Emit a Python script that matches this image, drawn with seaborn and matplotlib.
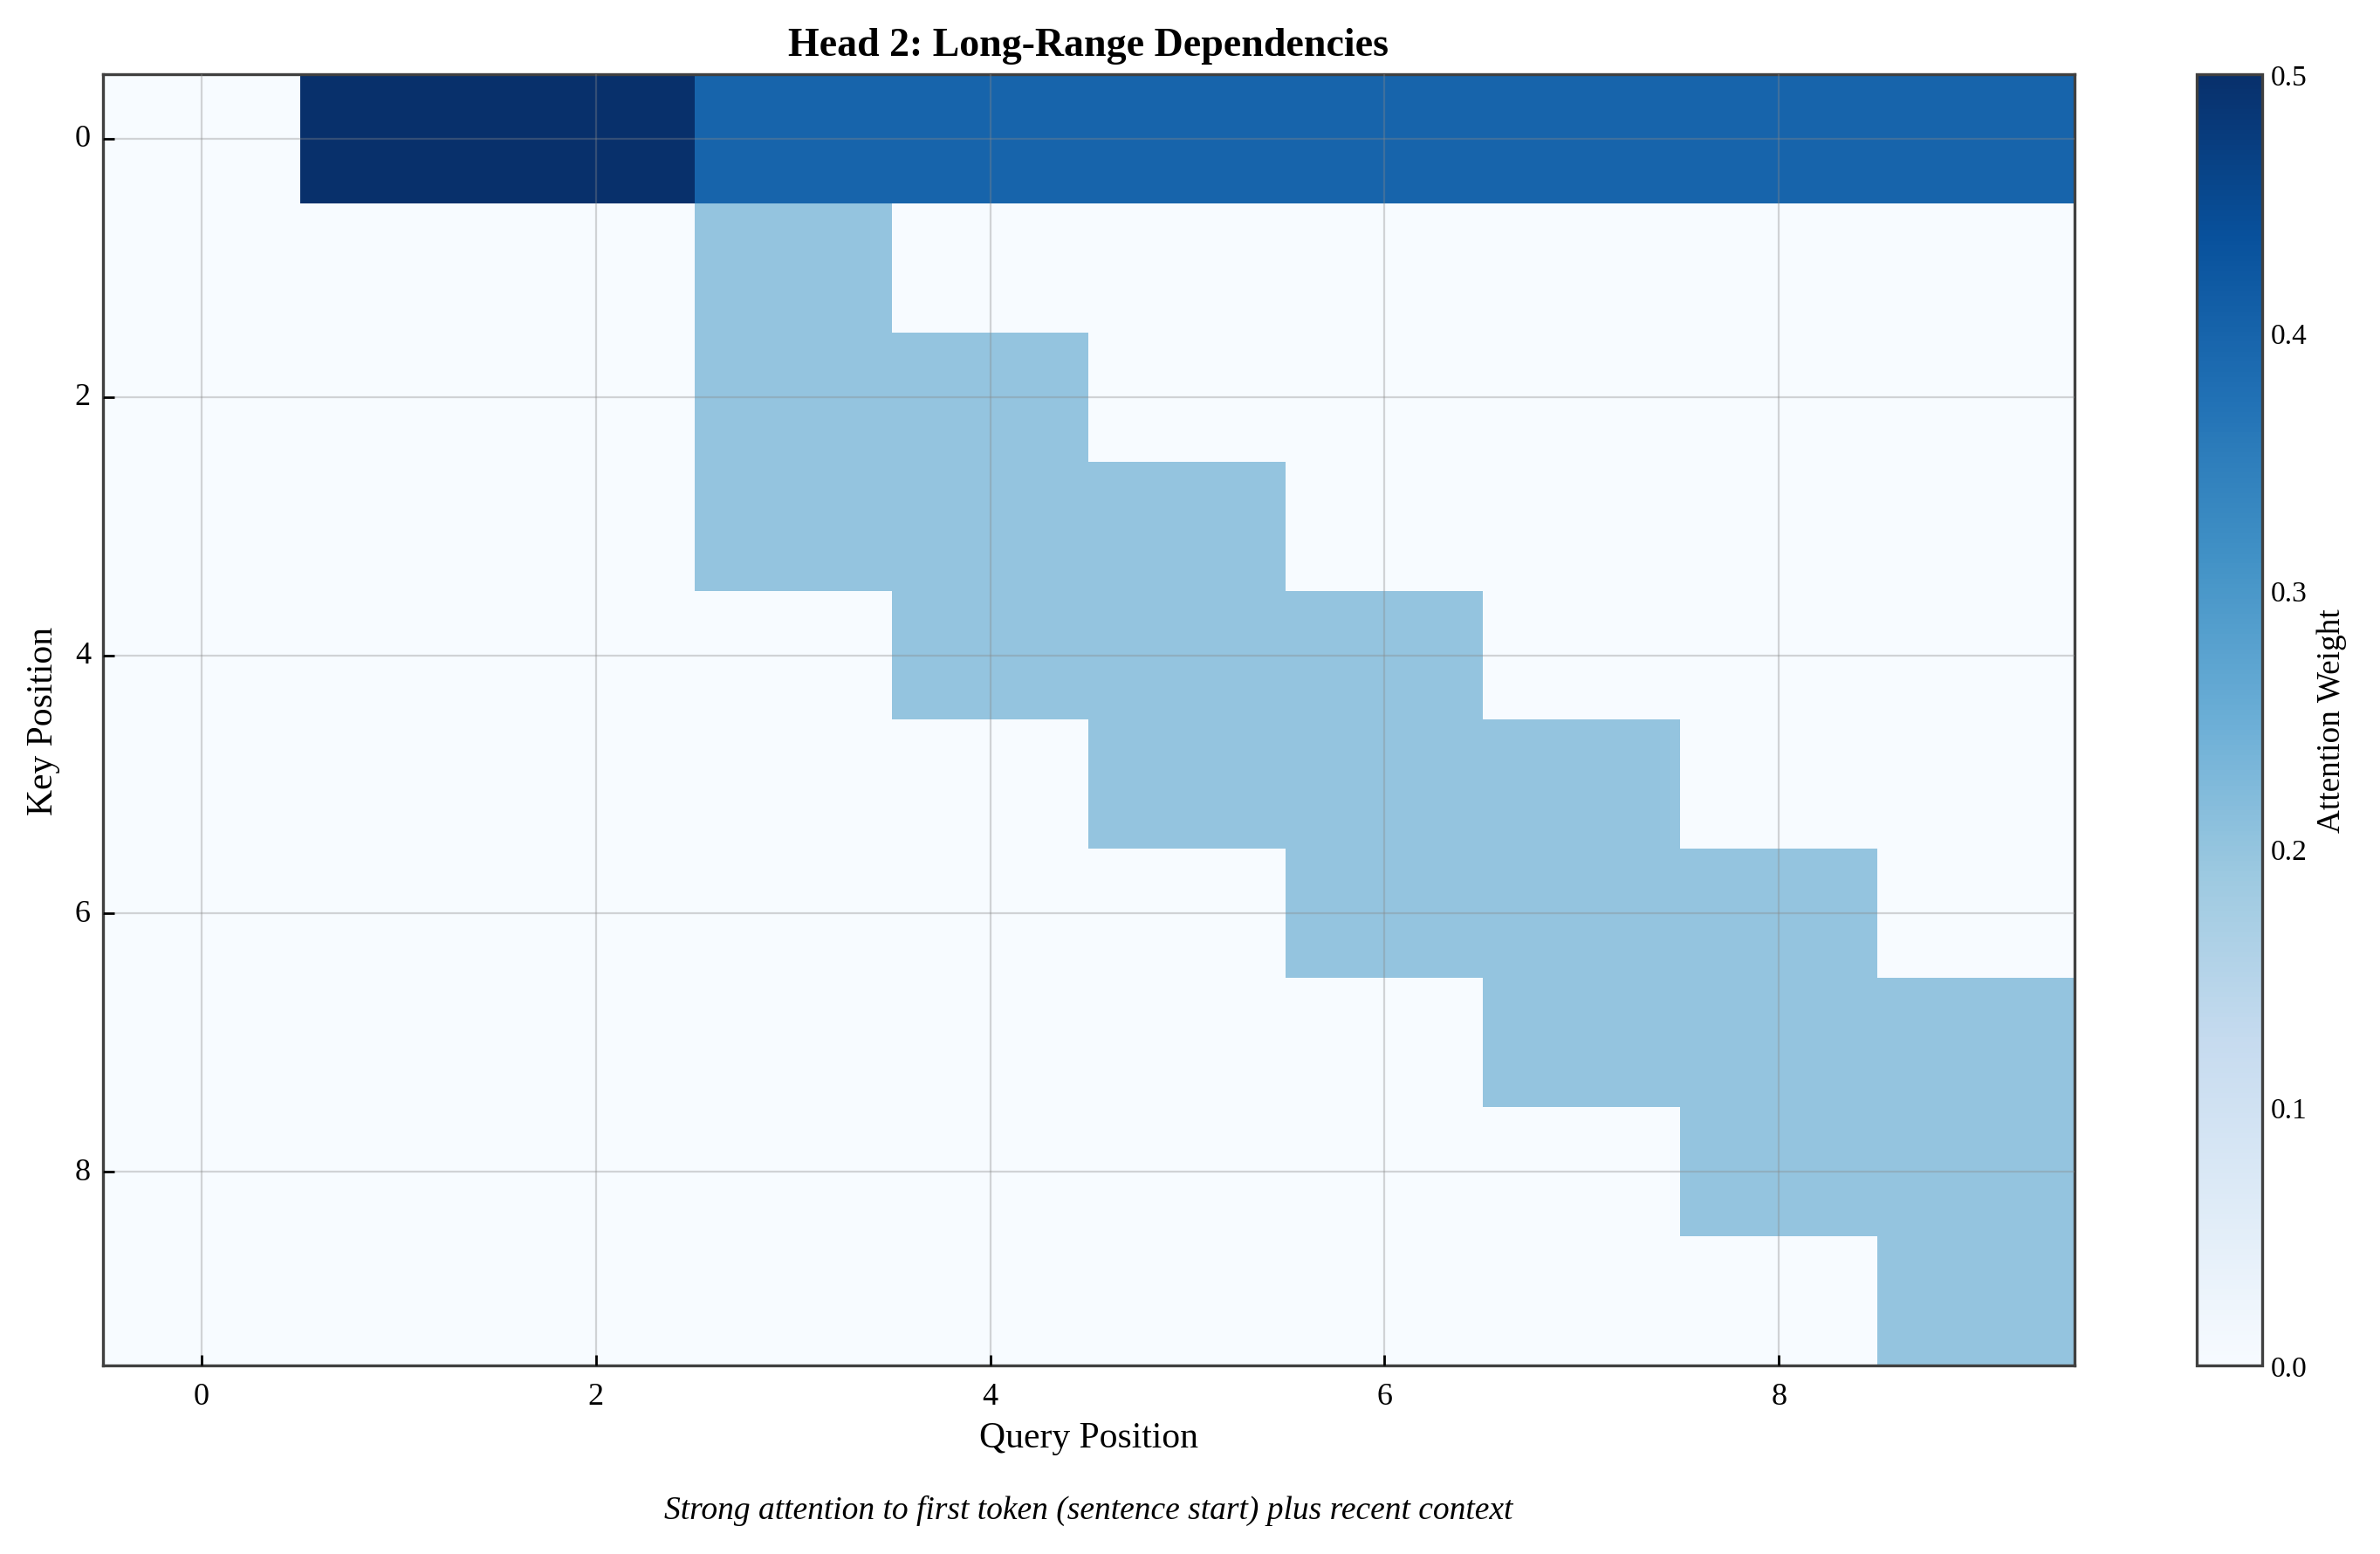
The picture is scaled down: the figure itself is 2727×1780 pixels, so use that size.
import numpy as np
import pandas as pd
import matplotlib
matplotlib.use("Agg")
import matplotlib.pyplot as plt
import seaborn as sns

# Attention weights: rows = key position, columns = query position
positions = list(range(10))
row_first_token = [0.0, 0.5, 0.5, 0.4, 0.4, 0.4, 0.4, 0.4, 0.4, 0.4]
row_1 = [0.0, 0.0, 0.0, 0.2, 0.0, 0.0, 0.0, 0.0, 0.0, 0.0]
row_2 = [0.0, 0.0, 0.0, 0.2, 0.2, 0.0, 0.0, 0.0, 0.0, 0.0]
row_3 = [0.0, 0.0, 0.0, 0.2, 0.2, 0.2, 0.0, 0.0, 0.0, 0.0]
row_4 = [0.0, 0.0, 0.0, 0.0, 0.2, 0.2, 0.2, 0.0, 0.0, 0.0]
row_5 = [0.0, 0.0, 0.0, 0.0, 0.0, 0.2, 0.2, 0.2, 0.0, 0.0]
row_6 = [0.0, 0.0, 0.0, 0.0, 0.0, 0.0, 0.2, 0.2, 0.2, 0.0]
row_7 = [0.0, 0.0, 0.0, 0.0, 0.0, 0.0, 0.0, 0.2, 0.2, 0.2]
row_8 = [0.0, 0.0, 0.0, 0.0, 0.0, 0.0, 0.0, 0.0, 0.2, 0.2]
row_9 = [0.0, 0.0, 0.0, 0.0, 0.0, 0.0, 0.0, 0.0, 0.0, 0.2]
tick_labels = ["0", "2", "4", "6", "8"]

attn = pd.DataFrame(
    [row_first_token, row_1, row_2, row_3, row_4,
     row_5, row_6, row_7, row_8, row_9],
    index=positions,
    columns=positions
)

sns.set_style("white")
plt.rcParams["font.family"] = ["Liberation Serif", "DejaVu Serif"]
plt.rcParams["text.color"] = "black"
plt.rcParams["axes.labelcolor"] = "black"
plt.rcParams["xtick.color"] = "black"
plt.rcParams["ytick.color"] = "black"

fig = plt.figure(figsize=(13.635, 8.905), dpi=200)
ax_pos = [0.0432, 0.1213, 0.8285, 0.8304]
ax = fig.add_axes(ax_pos)
cax = fig.add_axes([0.923, 0.1213, 0.0275, 0.8304])

sns.heatmap(
    attn,
    cmap="Blues",
    vmin=0,
    vmax=0.5,
    ax=ax,
    cbar_ax=cax,
    square=False
)

# Ticks at cell centres, like imshow
tick_pos = [p + 0.5 for p in positions[::2]]
ax.set_xticks(tick_pos)
ax.set_xticklabels(tick_labels, rotation=0)
ax.set_yticks(tick_pos)
ax.set_yticklabels(tick_labels, rotation=0)
ax.tick_params(direction="in", length=4.5, width=1, colors="black",
               labelsize=13, bottom=True, left=True)
ax.tick_params(axis="x", pad=7)
ax.tick_params(axis="y", pad=5)

ax.set_axisbelow(False)
ax.grid(True, color="#888888", alpha=0.35, linewidth=0.8)

for spine in ax.spines.values():
    spine.set_visible(True)
    spine.set_color("#404040")
    spine.set_linewidth(1.2)

ax.set_xlabel("Query Position", fontsize=15, labelpad=4, color="black")
ax.set_ylabel("Key Position", fontsize=15, labelpad=6, color="black")
ax.set_title("Head 2: Long-Range Dependencies", fontsize=16.5,
             fontweight="bold", pad=8, color="black")

# Colorbar
cbar = ax.collections[0].colorbar
cbar.set_ticks([0.0, 0.1, 0.2, 0.3, 0.4, 0.5])
cbar.ax.tick_params(direction="in", length=4.5, width=1, labelsize=12,
                    right=True, colors="black")
cbar.outline.set_visible(True)
cbar.outline.set_edgecolor("#404040")
cbar.outline.set_linewidth(1.2)
cbar.set_label("Attention Weight", fontsize=13.4, labelpad=4, color="black")

fig.text(ax_pos[0] + ax_pos[2] / 2, 0.023,
         "Strong attention to first token (sentence start) plus recent context",
         ha="center", fontsize=13.5, style="italic", color="black")

plt.savefig("out.png", dpi=200)
